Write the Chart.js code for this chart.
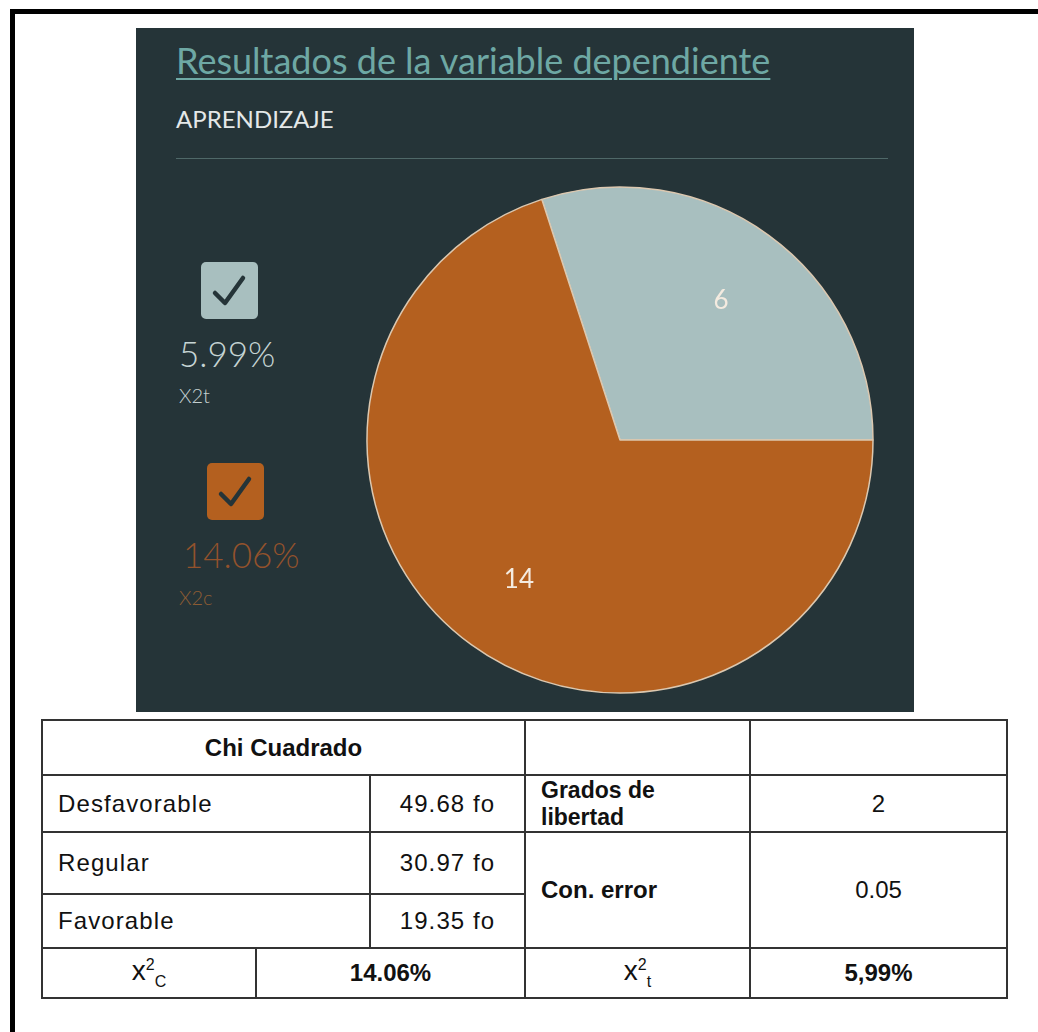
<!DOCTYPE html>
<html>
<head>
<meta charset="utf-8">
<script src="https://cdn.jsdelivr.net/npm/chart.js@4"></script>
<style>
  html, body { margin: 0; padding: 0; background: #fff; }
  body { width: 1038px; height: 1032px; position: relative; overflow: hidden; }
  .frameTop { position: absolute; left: 10px; top: 9px; width: 1028px; height: 5px; background: #000; }
  .frameLeft { position: absolute; left: 10px; top: 9px; width: 5px; height: 1023px; background: #000; }
  .panel { position: absolute; left: 136px; top: 28px; width: 778px; height: 684px; background: #253438; font-family: Lato, sans-serif; }
  .title { position: absolute; left: 40px; top: 11px; font-size: 36px; line-height: 1.2; color: #6ea8a4; text-decoration: underline; text-decoration-thickness: 2px; text-underline-offset: 4px; white-space: nowrap; }
  .sub { position: absolute; left: 40px; top: 77px; font-size: 24px; line-height: 1.2; color: #e4e8e8; }
  .rule { position: absolute; left: 40px; top: 130px; width: 712px; height: 1px; background: #4f6868; }
  .chk { position: absolute; width: 57px; height: 57px; border-radius: 5px; }
  .pct { position: absolute; font-size: 35px; line-height: 1.2; font-weight: 300; white-space: nowrap; }
  .lbl { position: absolute; font-size: 20px; line-height: 1.2; font-weight: 300; }
  #pieWrap { position: absolute; left: 224px; top: 152px; width: 520px; height: 520px; }
  table { position: absolute; left: 41px; top: 719px; border-collapse: collapse; font-family: "Liberation Sans", Arial, sans-serif; font-size: 24px; color: #111; table-layout: fixed; }
  td { border: 2px solid #333; padding: 0 15px; }
  .r { letter-spacing: 1.1px; }
  .c { text-align: center; }
  .b { font-weight: bold; }
  .x { font-size: 28px; }
  .x sup, .x sub { font-size: 16px; }
</style>
</head>
<body>
<div class="frameTop"></div>
<div class="frameLeft"></div>

<div class="panel">
  <div class="title">Resultados de la variable dependiente</div>
  <div class="sub">APRENDIZAJE</div>
  <div class="rule"></div>
  <div id="legend"></div>
  <div id="pieWrap"><canvas id="pie" width="520" height="520"></canvas></div>
</div>

<table>
  <colgroup>
    <col style="width:214px"><col style="width:114px"><col style="width:155px"><col style="width:225px"><col style="width:257px">
  </colgroup>
  <tr style="height:55px"><td colspan="3" class="c b">Chi Cuadrado</td><td></td><td></td></tr>
  <tr style="height:57px"><td colspan="2" class="r">Desfavorable</td><td class="c r">49.68 fo</td><td class="b" style="font-size:23px;line-height:27px">Grados de<br>libertad</td><td class="c">2</td></tr>
  <tr style="height:62px"><td colspan="2" class="r">Regular</td><td class="c r">30.97 fo</td><td rowspan="2" class="b">Con. error</td><td rowspan="2" class="c">0.05</td></tr>
  <tr style="height:54px"><td colspan="2" class="r">Favorable</td><td class="c r">19.35 fo</td></tr>
  <tr style="height:50px"><td class="c x">x<sup>2</sup><sub>C</sub></td><td colspan="2" class="c b">14.06%</td><td class="c x">x<sup>2</sup><sub>t</sub></td><td class="c b">5,99%</td></tr>
</table>

<script>
// pie values
const sliceLabels = ['X2t', 'X2c'];
const sliceValues = [6, 14];
const sliceColors = ['#a8bfbf', '#b4601f'];

// legend on the left of the panel
const legendPct = ['5.99%', '14.06%'];
const legendNames = ['X2t', 'X2c'];
const legendPctColors = ['#c6d4d4', '#93522c'];
const legendNameColors = ['#c4d0d0', '#8c5c34'];

const legendBox = document.getElementById('legend');
const legendPos = [[65, 234], [71, 435]];
legendNames.forEach((name, i) => {
  const [x, y] = legendPos[i];
  legendBox.innerHTML +=
    `<div class="chk" style="left:${x}px;top:${y}px;background:${sliceColors[i]}">
       <svg width="57" height="57"><polyline points="14,31 24,41 42,16" fill="none" stroke="#253438" stroke-width="4.5" stroke-linecap="round" stroke-linejoin="round"/></svg>
     </div>
     <div class="pct" style="left:${x - 22 - i * 2}px;top:${y + 70}px;color:${legendPctColors[i]}">${legendPct[i]}</div>
     <div class="lbl" style="left:${x - 22 - i * 6}px;top:${y + 121 + i}px;color:${legendNameColors[i]}">${name}</div>`;
});

// write the value inside each slice
const sliceText = {
  id: 'sliceText',
  afterDatasetsDraw(chart) {
    const ctx = chart.ctx;
    const meta = chart.getDatasetMeta(0);
    ctx.save();
    ctx.font = '26px Lato, sans-serif';
    ctx.fillStyle = '#f4ebe0';
    ctx.textAlign = 'center';
    ctx.textBaseline = 'middle';
    meta.data.forEach((arc, i) => {
      const mid = (arc.startAngle + arc.endAngle) / 2;
      const r = arc.outerRadius * 0.68;
      ctx.fillText(String(sliceValues[i]), arc.x + Math.cos(mid) * r, arc.y + Math.sin(mid) * r);
    });
    ctx.restore();
  }
};

new Chart(document.getElementById('pie'), {
  type: 'pie',
  data: {
    labels: sliceLabels,
    datasets: [{
      data: sliceValues,
      backgroundColor: sliceColors,
      borderColor: '#dcc8b0',
      borderWidth: 1.5
    }]
  },
  options: {
    responsive: false,
    animation: false,
    rotation: -18,
    radius: 253,
    layout: { padding: 0 },
    plugins: { legend: { display: false }, tooltip: { enabled: false } }
  },
  plugins: [sliceText]
});
</script>
</body>
</html>
